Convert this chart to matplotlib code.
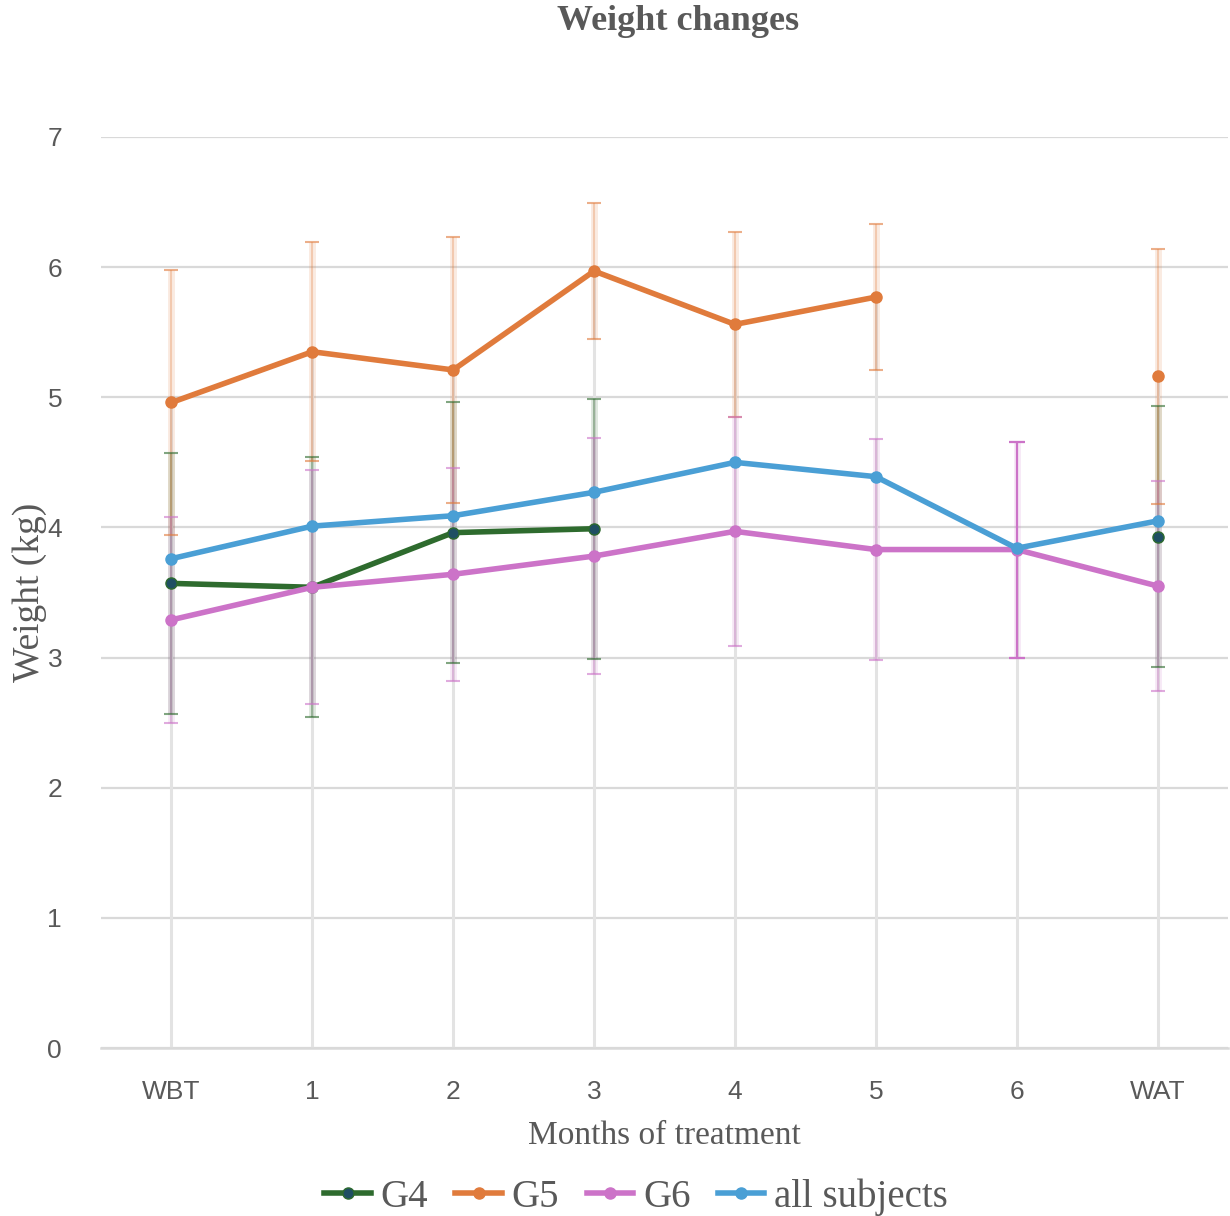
import numpy as np
import matplotlib
matplotlib.use('Agg')
import matplotlib.pyplot as plt
from matplotlib.colors import to_rgba

months = ['WBT', '1', '2', '3', '4', '5', '6', 'WAT']
g4 = [3.57, 3.54, 3.96, 3.99, np.nan, np.nan, np.nan, 3.93]
g4_err = [1.00, 1.00, 1.00, 1.00, np.nan, np.nan, np.nan, 1.00]
g5 = [4.96, 5.35, 5.21, 5.97, 5.56, 5.77, np.nan, 5.16]
g5_err = [1.02, 0.84, 1.02, 0.52, 0.71, 0.56, np.nan, 0.98]
g6 = [3.29, 3.54, 3.64, 3.78, 3.97, 3.83, 3.83, 3.55]
g6_err = [0.79, 0.90, 0.82, 0.91, 0.88, 0.85, 0.83, 0.81]
all_subj = [3.76, 4.01, 4.09, 4.27, 4.50, 4.39, 3.84, 4.05]

series = [
    ('G4', g4, g4_err, '#2e6b2e', '#1f4f63'),
    ('G5', g5, g5_err, '#e07b3c', '#e07b3c'),
    ('G6', g6, g6_err, '#cc73c8', '#cc73c8'),
    ('all subjects', all_subj, None, '#4a9fd5', '#4a9fd5'),
]
# the one error bar that is drawn solid in the original
solid_err = ('G6', '6')

text_col = '#595959'
grid_col = '#d9d9d9'
sans = ['Liberation Sans Narrow', 'Liberation Sans', 'DejaVu Sans']
serif = ['Liberation Serif', 'DejaVu Serif']

fig = plt.figure(figsize=(12.3, 12.16), dpi=100)
ax = fig.add_axes([101 / 1230, 1 - 1048 / 1216, 1127 / 1230, (1048 - 137) / 1216])

x = np.arange(len(months))

# drop lines from the highest point to the axis
tops = np.nanmax(np.array([g4, g5, g6, all_subj]), axis=0)
ax.vlines(x, 0, tops, color='#e3e3e3', lw=2.2, zorder=1)

# faded error bars
for name, vals, err, col, mcol in series:
    if err is None:
        continue
    vals = np.array(vals)
    err = np.array(err)
    ax.errorbar(x, vals, yerr=err, fmt='none', ecolor=to_rgba(col, 0.15),
                elinewidth=5, capsize=0, zorder=2)
    ax.errorbar(x, vals, yerr=err, fmt='none', ecolor=to_rgba(col, 0.3),
                elinewidth=1.5, capsize=0, zorder=2)
    ax.plot(x, vals + err, ls='none', marker='_', ms=10, mew=1.5,
            color=to_rgba(col, 0.6), zorder=3)
    ax.plot(x, vals - err, ls='none', marker='_', ms=10, mew=1.5,
            color=to_rgba(col, 0.6), zorder=3)
    if name == solid_err[0]:
        i = months.index(solid_err[1])
        ax.errorbar([x[i]], [vals[i]], yerr=[err[i]], fmt='none', ecolor=col,
                    elinewidth=1.6, capsize=6, capthick=1.6, zorder=4)

# series lines
for name, vals, err, col, mcol in series:
    ax.plot(x, vals, color=col, lw=4, marker='o', ms=8,
            markerfacecolor=mcol, markeredgecolor=col, label=name, zorder=5)

ax.set_xlim(-0.5, len(months) - 0.5)
ax.set_ylim(0, 7)
ax.set_yticks(range(0, 8))
ax.set_xticks(x)
ax.set_xticklabels(months)
ax.grid(axis='y', color=grid_col, lw=1.6)
ax.set_axisbelow(True)
for s in ['top', 'right', 'left']:
    ax.spines[s].set_visible(False)
ax.spines['bottom'].set_color(grid_col)
ax.spines['bottom'].set_linewidth(1.8)
ax.tick_params(length=0, colors=text_col)
ax.tick_params(axis='x', pad=23)
ax.tick_params(axis='y', pad=28)
for lab in ax.get_xticklabels() + ax.get_yticklabels():
    lab.set_family(sans)
    lab.set_fontsize(19)
    lab.set_color(text_col)

ax.set_xlabel('Months of treatment', family=serif, fontsize=24, color=text_col, labelpad=12)
ax.set_ylabel('Weight (kg)', family=serif, fontsize=27, color=text_col, va='center')
ax.yaxis.set_label_coords(-0.063, 0.5)

fig.text(678 / 1230, 1 - 22 / 1216, 'Weight changes', family=serif, fontweight='bold',
         fontsize=26, color=text_col, ha='center', va='center')

leg = fig.legend(loc='center', bbox_to_anchor=(636 / 1230, 19 / 1216), ncol=4,
                 frameon=False, handlelength=1.2, handletextpad=0.25, columnspacing=0.7,
                 prop={'family': serif, 'size': 28})
for t in leg.get_texts():
    t.set_color(text_col)

fig.savefig('out.png', dpi=100)
